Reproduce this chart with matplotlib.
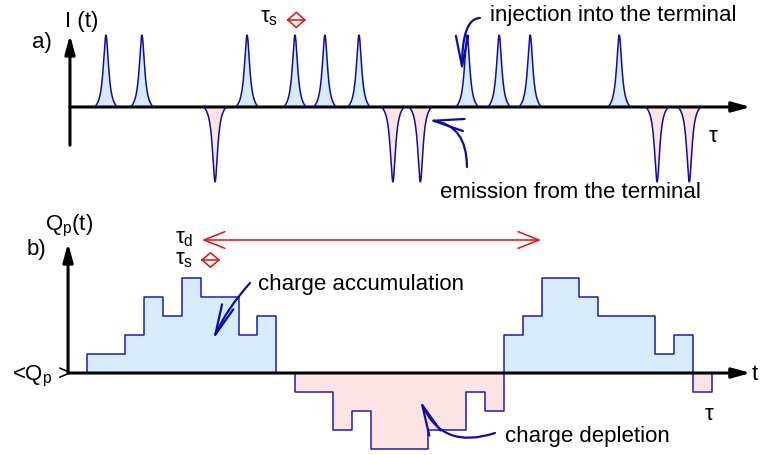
import numpy as np
import matplotlib.pyplot as plt

plt.rcParams['font.family'] = ['Liberation Sans', 'DejaVu Sans']
plt.rcParams['mathtext.fontset'] = 'custom'
plt.rcParams['mathtext.rm'] = 'Liberation Sans'
plt.rcParams['mathtext.it'] = 'Liberation Sans'
plt.rcParams['mathtext.sf'] = 'Liberation Sans'

# times of the current pulses (in units of tau_s)
injection_times = [2.0, 3.9, 9.45, 11.98, 13.56, 15.36, 21.07, 22.76, 24.4, 29.1]
emission_times = [7.76, 17.15, 18.6, 31.1, 32.8]

# charge in the window tau_d, as a step function (start time, level)
step_times = [0, 1, 3, 4, 5, 6, 7, 9, 10, 11, 12, 14, 15, 16, 19, 21, 22, 23, 24, 25, 27, 28, 31, 32, 33, 34]
step_levels = [0, 1, 2, 4, 3, 5, 4, 2, 3, 0, -1, -3, -2, -4, -3, -1, -2, 2, 3, 5, 4, 3, 1, 2, -1, 0]

tau_d_start, tau_d_end = 7.07, 24.97

BLUE = '#0c0ca8'
STEP_BLUE = '#1a1ac4'
FILL_BLUE = '#d6ebfb'
FILL_PINK = '#fde3e3'
RED = '#e01010'
FS = 16


def pulse(t0, sign):
    #narrow lorentzian pulse, cut at +-0.6 and shifted to zero at the edges
    t = np.linspace(t0 - 0.6, t0 + 0.6, 200)
    g = 0.17
    f = 1 / (1 + ((t - t0) / g) ** 2)
    edge = 1 / (1 + (0.6 / g) ** 2)
    return t, sign * (f - edge) / (1 - edge)


def axis_arrow(ax, start, end):
    ax.annotate('', xy=end, xytext=start,
                arrowprops=dict(arrowstyle='-|>,head_length=0.55,head_width=0.15',
                                lw=2.2, color='black', mutation_scale=20,
                                shrinkA=0, shrinkB=0))


def small_tau_arrow(ax, x1, x2, y, half_h):
    #the little double arrow (a diamond with a line through it) that marks tau_s
    xm = (x1 + x2) / 2
    ax.plot([x1, xm, x2, xm, x1], [y, y + half_h, y, y - half_h, y], color=RED, lw=1.1)
    ax.plot([x1, x2], [y, y], color=RED, lw=1.1)


def pointer(ax, start, tip, conn):
    ax.annotate('', xy=tip, xytext=start,
                arrowprops=dict(arrowstyle='->,head_length=1.1,head_width=0.22',
                                lw=1.6, color=BLUE, mutation_scale=20,
                                connectionstyle=conn,
                                shrinkA=0, shrinkB=0))


fig = plt.figure(figsize=(7.6, 4.55), dpi=100)
x0, x1 = -68.06 / 18.94, (760 - 68.06) / 18.94

# panel a: current pulses
ax_a = fig.add_axes([0, 0, 1, 1])
ax_a.set_xlim(x0, x1)
ax_a.set_ylim((107 - 455) / 72, 107 / 72)
ax_a.axis('off')

axis_arrow(ax_a, (0.1, 0), (36.05, 0))
axis_arrow(ax_a, (0.1, -0.53), (0.1, 1.0))
for t0 in injection_times:
    t, y = pulse(t0, 1)
    ax_a.fill_between(t, y, 0, color=FILL_BLUE, lw=0, zorder=1)
    ax_a.plot(t, y, color=BLUE, lw=1.1, zorder=3)
for t0 in emission_times:
    t, y = pulse(t0, -1.04)
    ax_a.fill_between(t, y, 0, color=FILL_PINK, lw=0, zorder=1)
    ax_a.plot(t, y, color=BLUE, lw=1.1, zorder=3)

ax_a.text(-1.9, 0.82, 'a)', fontsize=FS, va='baseline')
ax_a.text(-0.16, 1.11, 'I (t)', fontsize=FS, va='baseline')
ax_a.text(10.13, 1.17, r'$\tau_{s}$', fontsize=FS, va='baseline')
small_tau_arrow(ax_a, 11.6, 12.5, 1.21, 0.105)
ax_a.text(22.28, 1.19, 'injection into the terminal', fontsize=FS, va='baseline')
ax_a.text(19.64, -1.26, 'emission from the terminal', fontsize=FS, va='baseline')
ax_a.text(33.79, -0.49, r'$\tau$', fontsize=FS, va='baseline')
pointer(ax_a, (21.75, 1.236), (20.8, 0.486), 'angle3,angleA=180,angleB=90')
pointer(ax_a, (21.06, -0.833), (19.0, -0.18), 'angle3,angleA=90,angleB=-8')

# panel b: accumulated charge
ax_b = fig.add_axes([0, 0, 1, 1])
ax_b.patch.set_alpha(0)
ax_b.set_xlim(x0, x1)
ax_b.set_ylim((373 - 455) / 19, 373 / 19)
ax_b.axis('off')

xs = np.repeat(step_times, 2)[1:]
ys = np.repeat(step_levels, 2)[:-1]
ax_b.fill_between(xs, np.clip(ys, 0, None), 0, color=FILL_BLUE, lw=0, zorder=1)
ax_b.fill_between(xs, np.clip(ys, None, 0), 0, color=FILL_PINK, lw=0, zorder=1)
ax_b.plot(xs, ys, color=STEP_BLUE, lw=1.1, zorder=2)
axis_arrow(ax_b, (0, 0), (36.05, 0))
axis_arrow(ax_b, (0, 0), (0, 6.84))

ax_b.text(-2.17, 6.21, 'b)', fontsize=FS, va='baseline')
ax_b.text(-1.22, 7.53, r'$Q_{p}$(t)', fontsize=FS, va='baseline')
ax_b.text(-2.96, -0.37, r'<$Q_{p}$ >', fontsize=FS, va='baseline')
ax_b.text(5.65, 6.8, r'$\tau_{d}$', fontsize=FS, va='baseline')
ax_b.text(5.65, 5.72, r'$\tau_{s}$', fontsize=FS, va='baseline')
ax_b.annotate('', xy=(tau_d_end, 7.0), xytext=(tau_d_start, 7.0),
              arrowprops=dict(arrowstyle='<->,head_length=0.75,head_width=0.3',
                              lw=1.1, color=RED, mutation_scale=20,
                              shrinkA=0, shrinkB=0))
small_tau_arrow(ax_b, 7.07, 7.97, 5.95, 0.38)
ax_b.text(10.03, 4.37, 'charge accumulation', fontsize=FS, va='baseline')
ax_b.text(23.07, -3.63, 'charge depletion', fontsize=FS, va='baseline')
ax_b.text(33.6, -2.47, r'$\tau$', fontsize=FS, va='baseline')
ax_b.text(36.1, -0.37, 't', fontsize=FS, va='baseline')
pointer(ax_b, (9.61, 4.74), (7.65, 1.74), 'arc3,rad=0.08')
pointer(ax_b, (22.54, -3.16), (18.58, -1.42), 'arc3,rad=-0.45')

fig.savefig('out.png', dpi=100)
